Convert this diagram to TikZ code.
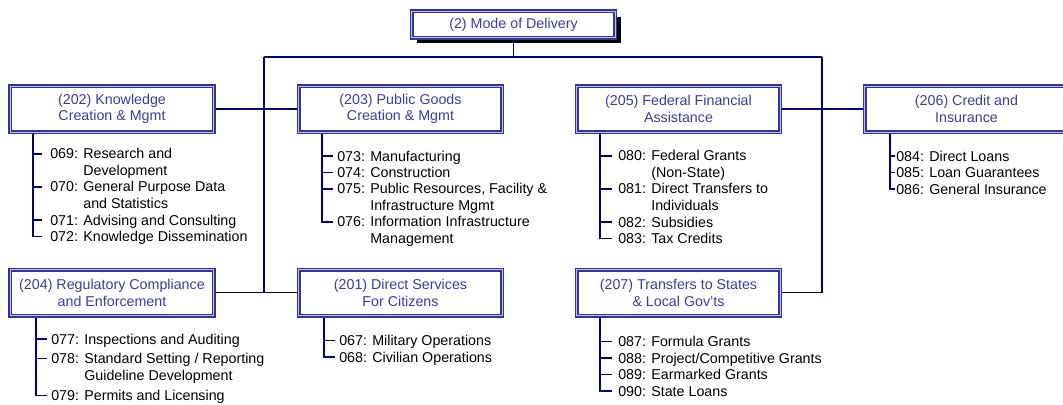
\documentclass[tikz,border=0pt]{standalone}
\usepackage{fontspec}
\setmainfont{Liberation Sans}
\usetikzlibrary{positioning,shadows,backgrounds}
\definecolor{boxline}{RGB}{51,51,153}
\definecolor{boxtext}{RGB}{60,60,165}
\definecolor{linenavy}{RGB}{0,0,128}

\begin{document}
\begin{tikzpicture}[x = 0.75pt, y = -0.75pt,
catbox/.style = {shape = rectangle, draw = boxline, line width = 1.25pt, double = boxline!30, double distance = 0.7pt, fill = white, text = boxtext, align = center, minimum width = 152.5pt, minimum height = 34.5pt, inner sep = 0pt, font = \fontsize{10.7pt}{12.4pt}\selectfont},
topbox/.style = {catbox, minimum height = 20pt, drop shadow = {shadow xshift = 4pt, shadow yshift = -4pt, fill = black, opacity = 1}},
item/.style = {anchor = base west, align = left, inner sep = 0pt, font = \fontsize{10.7pt}{12.4pt}\selectfont},
conn/.style = {draw = linenavy, line width = 0.9pt},
]
\useasboundingbox (0,0) rectangle (1063,404);

% categories
\node[topbox] (top) at (513.5,24.5) {(2) Mode of Delivery};
\node[catbox] (b202) at (112,109) {(202) Knowledge\\Creation \& Mgmt};
\node[catbox] (b203) at (400.5,109) {(203) Public Goods\\Creation \& Mgmt};
\node[catbox] (b205) at (678.5,109) {(205) Federal Financial\\Assistance};
\node[catbox] (b206) at (966.5,109) {(206) Credit and\\Insurance};
\node[catbox] (b204) [below = 102pt of b202] {(204) Regulatory Compliance\\and Enforcement};
\node[catbox] (b201) [below = 102pt of b203] {(201) Direct Services\\For Citizens};
\node[catbox] (b207) [below = 102pt of b205] {(207) Transfers to States\\\& Local Gov'ts};

% sub-functions (two-line items sit on their second baseline)
\node[item] (i069) at (50,175.5) {069: Research and\\\hphantom{069: }Development};
\node[item] (i070) at (50,208.5) {070: General Purpose Data\\\hphantom{070: }and Statistics};
\node[item] (i071) at (50,225) {071: Advising and Consulting};
\node[item] (i072) at (50,241.5) {072: Knowledge Dissemination};

\node[item] (i073) at (337,161) {073: Manufacturing};
\node[item] (i074) at (337,177.5) {074: Construction};
\node[item] (i075) at (337,210.5) {075: Public Resources, Facility \&\\\hphantom{075: }Infrastructure Mgmt};
\node[item] (i076) at (337,243.5) {076: Information Infrastructure\\\hphantom{076: }Management};

\node[item] (i080) at (618,177.5) {080: Federal Grants\\\hphantom{080: }(Non-State)};
\node[item] (i081) at (618,210.5) {081: Direct Transfers to\\\hphantom{081: }Individuals};
\node[item] (i082) at (618,227) {082: Subsidies};
\node[item] (i083) at (618,243.5) {083: Tax Credits};

\node[item] (i084) at (896,161) {084: Direct Loans};
\node[item] (i085) at (896,177.5) {085: Loan Guarantees};
\node[item] (i086) at (896,194) {086: General Insurance};

\node[item] (i077) at (51,344) {077: Inspections and Auditing};
\node[item] (i078) at (51,380) {078: Standard Setting / Reporting\\\hphantom{078: }Guideline Development};
\node[item] (i079) at (51,400.5) {079: Permits and Licensing};

\node[item] (i067) at (339,345.5) {067: Military Operations};
\node[item] (i068) at (339,362) {068: Civilian Operations};

\node[item] (i087) at (618,346.5) {087: Formula Grants};
\node[item] (i088) at (618,363) {088: Project/Competitive Grants};
\node[item] (i089) at (618,379.5) {089: Earmarked Grants};
\node[item] (i090) at (618,396) {090: State Loans};

\coordinate (busL) at (264,57);
\coordinate (busR) at (822,57);
\coordinate (v202) at (33,0);
\coordinate (v203) at (322,0);
\coordinate (v205) at (600,0);
\coordinate (v206) at (890,0);
\coordinate (v204) at (36,0);
\coordinate (v201) at (324,0);
\coordinate (v207) at (600,0);

\begin{scope}[on background layer]
% tree
\draw[conn] (top.south) -- (top.south |- busL);
\draw[conn] (busL) -- (busR);
\draw[conn] (busL) -- (busL |- b204.east);
\draw[conn] (busR) |- (b207.east);
\draw[conn] (b202) -- (b203);
\draw[conn] (b205) -- (b206);
\draw[conn] (b204) -- (b201);

% lists
\draw[conn] (b202.south -| v202) |- ([shift={(-8.5,-5)}]i072.base west);
\draw[conn] (v202 |- i069.base) ++(0,-21.5) -- ([shift={(-8.5,-21.5)}]i069.base west);
\draw[conn] (v202 |- i070.base) ++(0,-21.5) -- ([shift={(-8.5,-21.5)}]i070.base west);
\draw[conn] (v202 |- i071.base) ++(0,-5) -- ([shift={(-8.5,-5)}]i071.base west);

\draw[conn] (b203.south -| v203) |- ([shift={(-4.5,-21.5)}]i076.base west);
\draw[conn] (v203 |- i073.base) ++(0,-5) -- ([shift={(-4.5,-5)}]i073.base west);
\draw[conn] (v203 |- i074.base) ++(0,-5) -- ([shift={(-4.5,-5)}]i074.base west);
\draw[conn] (v203 |- i075.base) ++(0,-21.5) -- ([shift={(-4.5,-21.5)}]i075.base west);

\draw[conn] (b205.south -| v205) |- ([shift={(-6,-5)}]i083.base west);
\draw[conn] (v205 |- i080.base) ++(0,-21.5) -- ([shift={(-6,-21.5)}]i080.base west);
\draw[conn] (v205 |- i081.base) ++(0,-21.5) -- ([shift={(-6,-21.5)}]i081.base west);
\draw[conn] (v205 |- i082.base) ++(0,-5) -- ([shift={(-6,-5)}]i082.base west);

\draw[conn] (b206.south -| v206) |- ([shift={(-1.5,-5)}]i086.base west);
\draw[conn] (v206 |- i084.base) ++(0,-5) -- ([shift={(-1.5,-5)}]i084.base west);
\draw[conn] (v206 |- i085.base) ++(0,-5) -- ([shift={(-1.5,-5)}]i085.base west);

\draw[conn] (b204.south -| v204) |- ([shift={(-4.5,-5)}]i079.base west);
\draw[conn] (v204 |- i077.base) ++(0,-5) -- ([shift={(-4.5,-5)}]i077.base west);
\draw[conn] (v204 |- i078.base) ++(0,-21.5) -- ([shift={(-4.5,-21.5)}]i078.base west);

\draw[conn] (b201.south -| v201) |- ([shift={(-4,-5)}]i068.base west);
\draw[conn] (v201 |- i067.base) ++(0,-5) -- ([shift={(-4,-5)}]i067.base west);

\draw[conn] (b207.south -| v207) |- ([shift={(-6,-5)}]i090.base west);
\draw[conn] (v207 |- i087.base) ++(0,-5) -- ([shift={(-6,-5)}]i087.base west);
\draw[conn] (v207 |- i088.base) ++(0,-5) -- ([shift={(-6,-5)}]i088.base west);
\draw[conn] (v207 |- i089.base) ++(0,-5) -- ([shift={(-6,-5)}]i089.base west);
\end{scope}
\end{tikzpicture}
\end{document}
